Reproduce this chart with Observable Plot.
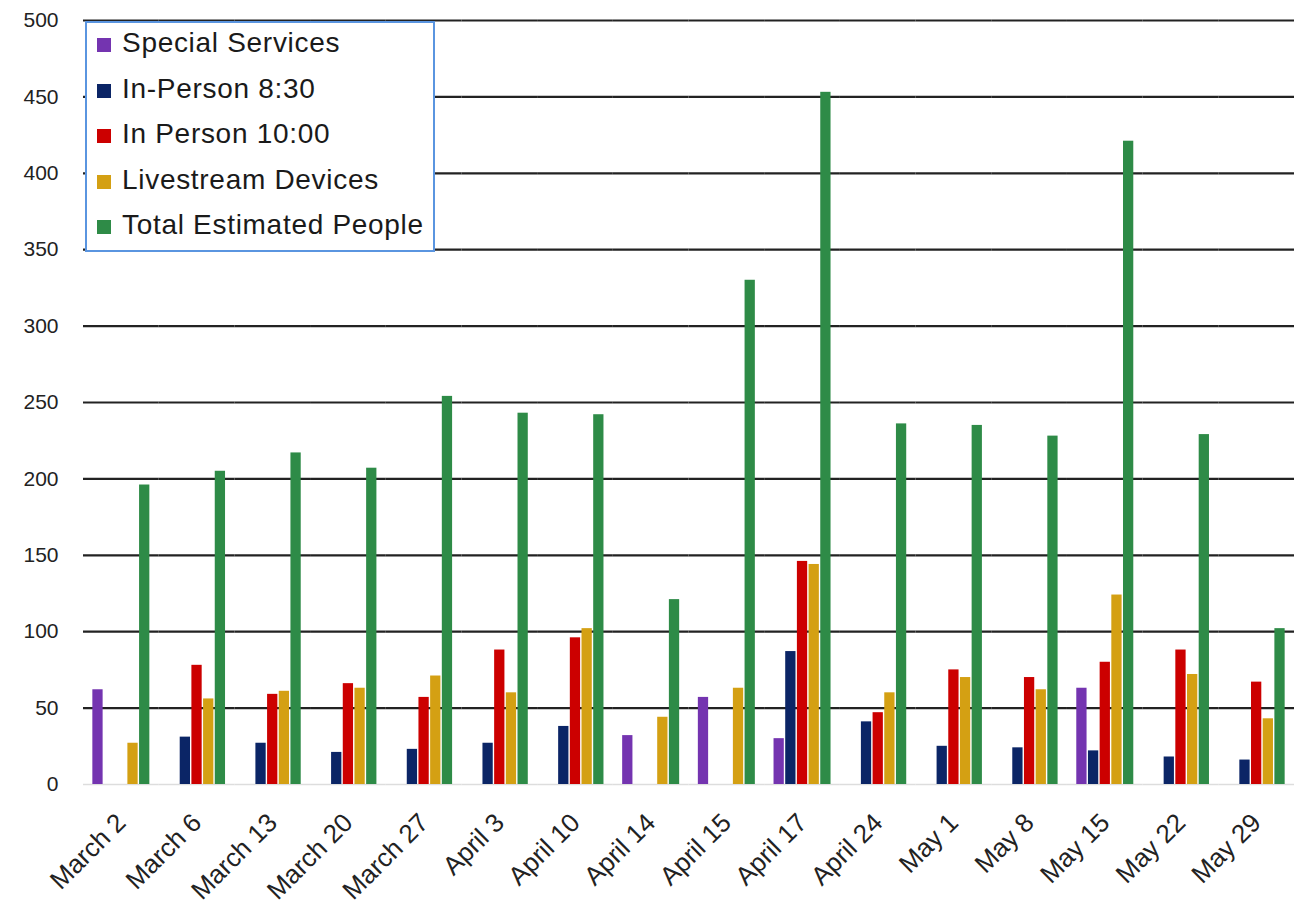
<!DOCTYPE html>
<html>
<head>
<meta charset="utf-8">
<script src="https://cdn.jsdelivr.net/npm/d3@7"></script>
<script src="https://cdn.jsdelivr.net/npm/@observablehq/plot@0.6"></script>
<style>
  body { margin: 0; background: #fff; font-family: "Liberation Sans", Arial, sans-serif; }
  #wrap { position: relative; width: 1297px; height: 905px; }
  #legend {
    position: absolute; left: 85px; top: 21px; width: 346px; height: 227px;
    border: 2px solid #5a95e0; background: #fff; box-sizing: content-box;
  }
  .item { position: absolute; left: 35px; font-size: 28px; letter-spacing: 0.7px; color: #1a1a1a; white-space: nowrap; line-height: 28px; }
  .sw { position: absolute; left: 10px; width: 14px; height: 14px; }
  .fxlab text { font-size: 26px; }
  .ylab text { font-size: 21px; }
</style>
</head>
<body>
<div id="wrap"><div id="chart"></div><div id="legend"></div></div>
<script>
const dates = ["March 2","March 6","March 13","March 20","March 27","April 3","April 10","April 14","April 15","April 17","April 24","May 1","May 8","May 15","May 22","May 29"];
const seriesNames = ["Special Services","In-Person 8:30","In Person 10:00","Livestream Devices","Total Estimated People"];
const seriesColors = ["#7434b0","#0b2566","#cc0000","#d4a013","#2e8b47"];
const specialServices = [62,null,null,null,null,null,null,32,57,30,null,null,null,63,null,null];
const inPerson830 = [null,31,27,21,23,27,38,null,null,87,41,25,24,22,18,16];
const inPerson1000 = [null,78,59,66,57,88,96,null,null,146,47,75,70,80,88,67];
const livestream = [27,56,61,63,71,60,102,44,63,144,60,70,62,124,72,43];
const totalPeople = [196,205,217,207,254,243,242,121,330,453,236,235,228,421,229,102];
const yTicks = [0,50,100,150,200,250,300,350,400,450,500];

const seriesValues = [specialServices, inPerson830, inPerson1000, livestream, totalPeople];
const rows = [];
dates.forEach((d, i) => {
  seriesNames.forEach((s, j) => {
    const v = seriesValues[j][i];
    if (v != null) rows.push({date: d, series: s, value: v});
  });
});

const chart = Plot.plot({
  width: 1297,
  height: 905,
  marginLeft: 83,
  marginRight: 3,
  marginTop: 20,
  marginBottom: 121,
  style: {fontFamily: "'Liberation Sans', Arial, sans-serif", fontSize: "20px", color: "#222", background: "#fff"},
  fx: {domain: dates, paddingInner: 0, paddingOuter: 0, round: false, label: null, axis: "bottom", tickRotate: -45, tickSize: 0, tickPadding: 34},
  x: {domain: seriesNames, paddingInner: 0.12, paddingOuter: 0.8, round: false, axis: null},
  y: {domain: [0, 500], ticks: yTicks, label: null, tickSize: 0, tickPadding: 25, grid: false},
  color: {domain: seriesNames, range: seriesColors},
  marks: [
    Plot.ruleY(yTicks.filter(t => t > 0), {stroke: "#222", strokeWidth: 2.2}),
    Plot.ruleY([0], {stroke: "#ddd", strokeWidth: 1.5}),
    Plot.barY(rows, {fx: "date", x: "series", y: "value", fill: "series"})
  ]
});
document.getElementById("chart").appendChild(chart);

// size the axis labels
d3.select(chart).selectAll("g[aria-label='fx-axis tick label'], g[aria-label='fx-axis']").classed("fxlab", true);
d3.select(chart).selectAll("g[aria-label='y-axis tick label'], g[aria-label='y-axis']").classed("ylab", true);

const legend = document.getElementById("legend");
seriesNames.forEach((s, j) => {
  const sw = document.createElement("div");
  sw.className = "sw";
  sw.style.top = (15 + j * 45.5) + "px";
  sw.style.background = seriesColors[j];
  legend.appendChild(sw);
  const div = document.createElement("div");
  div.className = "item";
  div.style.top = (6 + j * 45.5) + "px";
  div.textContent = s;
  legend.appendChild(div);
});
</script>
</body>
</html>
